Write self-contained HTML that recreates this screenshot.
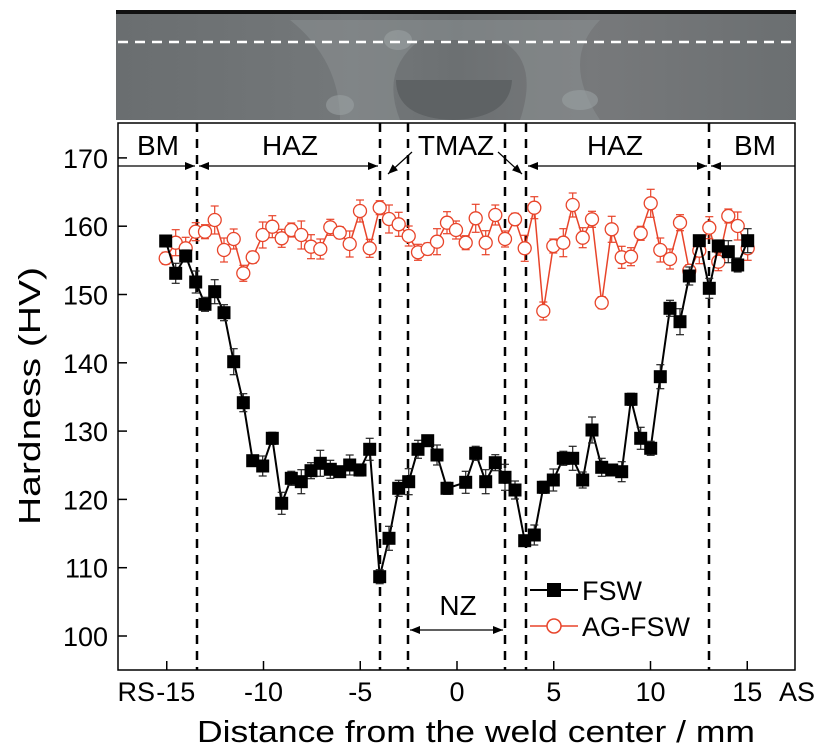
<!DOCTYPE html>
<html><head><meta charset="utf-8"><style>
body{margin:0;background:#fff;}
svg{display:block;font-family:"Liberation Sans",Arial,sans-serif;}
</style></head><body>
<svg id="s" width="827" height="751" viewBox="0 0 827 751" xmlns="http://www.w3.org/2000/svg">
<defs>
<linearGradient id="g" x1="0" x2="1" y1="0" y2="0">
<stop offset="0" stop-color="#6a6e70"/><stop offset="0.35" stop-color="#74787a"/><stop offset="0.5" stop-color="#6c7072"/><stop offset="0.7" stop-color="#77797b"/><stop offset="1" stop-color="#6b6f71"/>
</linearGradient>
<marker id="ah" markerWidth="10" markerHeight="8" refX="10" refY="4" orient="auto" markerUnits="userSpaceOnUse"><path d="M0,0 L10,4 L0,8 z" fill="#000"/></marker>
</defs>
<rect x="116" y="10" width="680" height="110" fill="url(#g)"/>
<rect x="116" y="10" width="680" height="4" fill="#111"/>
<path d="M290,20 Q340,60 340,120 L400,120 Q380,70 420,40 L500,40 Q540,60 520,120 L600,120 Q560,60 600,20 Z" fill="#8a9092" opacity="0.55"/>
<ellipse cx="398" cy="40" rx="14" ry="10" fill="#9aa0a2" opacity="0.6"/>
<ellipse cx="580" cy="100" rx="18" ry="10" fill="#9aa0a2" opacity="0.6"/>
<ellipse cx="340" cy="105" rx="14" ry="10" fill="#9aa0a2" opacity="0.6"/>
<path d="M396,80 Q396,118 453,120 Q510,118 512,80 Z" fill="#5e6264"/>
<line x1="118" y1="42" x2="796" y2="42" stroke="#fff" stroke-width="2.5" stroke-dasharray="10,7"/>
<rect x="118" y="123" width="677" height="547" fill="none" stroke="#000" stroke-width="1.5"/>
<g id="dash" stroke="#000" stroke-width="2.5" stroke-dasharray="9,7">
<line x1="197" y1="123" x2="197" y2="670"/><line x1="380" y1="123" x2="380" y2="670"/>
<line x1="408" y1="123" x2="408" y2="670"/><line x1="505" y1="123" x2="505" y2="670"/>
<line x1="526" y1="123" x2="526" y2="670"/><line x1="709" y1="123" x2="709" y2="670"/>
</g>
<g stroke="#000" stroke-width="1.2" marker-end="url(#ah)">
<line x1="118" y1="166" x2="195" y2="166"/><line x1="290" y1="166" x2="199" y2="166"/>
<line x1="290" y1="166" x2="378" y2="166"/><line x1="412" y1="152" x2="388" y2="174"/>
<line x1="498" y1="152" x2="522" y2="174"/><line x1="615" y1="166" x2="528" y2="166"/>
<line x1="615" y1="166" x2="707" y2="166"/><line x1="795" y1="166" x2="711" y2="166"/>
<line x1="458" y1="630" x2="410" y2="630"/><line x1="458" y1="630" x2="503" y2="630"/>
</g>
<g font-size="28" text-anchor="middle" fill="#000">
<text x="158" y="155">BM</text><text x="290" y="155">HAZ</text><text x="456" y="155">TMAZ</text>
<text x="615" y="155">HAZ</text><text x="755" y="155">BM</text><text x="458" y="615">NZ</text>
</g>
<g id="ax" stroke="#000" stroke-width="1.5"></g>
<g font-size="27" text-anchor="end" id="yl"></g>
<g font-size="27" text-anchor="middle" id="xl"></g>
<text x="155" y="701" font-size="27" text-anchor="end">RS</text>
<text x="779" y="701" font-size="27">AS</text>
<text x="197" y="742" font-size="31" textLength="558" lengthAdjust="spacingAndGlyphs">Distance from the weld center / mm</text>
<text transform="translate(40,396) rotate(-90)" font-size="31" text-anchor="middle" textLength="258" lengthAdjust="spacingAndGlyphs">Hardness (HV)</text>
<g id="ag"></g><g id="fs"></g>
<line x1="530" y1="590" x2="578" y2="590" stroke="#000" stroke-width="2"/>
<rect x="547" y="583" width="14" height="14" fill="#000"/>
<text x="582" y="600" font-size="27">FSW</text>
<line x1="530" y1="626" x2="578" y2="626" stroke="#e8442a" stroke-width="1.5"/>
<circle cx="554" cy="626" r="7" fill="#fff" stroke="#e8442a" stroke-width="1.5"/>
<text x="582" y="636" font-size="27">AG-FSW</text>
</svg>
<script>
const NS="http://www.w3.org/2000/svg";
function el(p,t,a){const e=document.createElementNS(NS,t);for(const k in a)e.setAttribute(k,a[k]);p.appendChild(e);return e;}
const ax=document.getElementById('ax'),yl=document.getElementById('yl'),xl=document.getElementById('xl');
for(let v=100;v<=170;v+=10){const y=636-(v-100)*6.83;el(ax,'line',{x1:118,y1:y,x2:127,y2:y});const t=el(yl,'text',{x:108,y:y+10});t.textContent=v;}
[-15,-10,-5,0,5,10,15].forEach(v=>{const x=457+v*19.35;el(ax,'line',{x1:x,y1:670,x2:x,y2:661});const t=el(xl,'text',{x:x+(v==-15?9:0),y:701});t.textContent=v;});
const fx=[165.7,175.7,185.7,195.7,205,214.7,224,233.7,243.3,252.7,262.7,272.3,281.7,291.3,301.3,311,320.3,330.3,339.7,349.7,360,369.7,379.7,389,398.7,408.7,418,427.7,437,447,465.7,475.7,485.7,495.3,505,515,524.7,534.3,543.3,553.3,563.3,572.7,582.7,592,601.7,611.7,621.7,631,640.7,650.7,660.3,670,680,689.3,699.3,709.3,718.3,728.3,737.7,747.7];
const fy=[241,273.3,256,282,304.3,291.7,312.7,361.7,402.7,460.7,466,438.3,503.3,478.3,481.7,470.7,463.3,469.3,471.7,465,470,449.3,576.7,538.3,488.3,481.7,449.3,440.7,455,488.3,482.3,453.3,481.7,462.7,477.3,490,540.7,535,487.3,480,458.3,458.3,480,430,467.3,470,471.7,399.3,438.3,448.3,376.7,308.3,321.7,276,240.7,288.3,246,251.7,265,240.7];
const ax2=[165.7,175.7,185.7,195.7,205,214.7,224,233.7,243.3,252.7,262.7,272.3,281.7,291.3,301.3,311,320.3,330.3,339.7,349.7,360,369.7,379.7,389,398.7,408.7,418,427.7,437,447,456,465.7,475.7,485.7,495.3,505,515,524.7,534.3,543.3,553.3,563.3,572.7,582.7,592,601.7,611.7,621.7,631,640.7,650.7,660.3,670,680,689.3,699.3,709.3,718.3,728.3,737.7,747.7];
const ay=[258.3,242.7,248.3,231.7,231.7,220,250,239,273.3,257.3,235,226.7,238.3,230,235,246.7,249,227.3,232.7,244,211,248.3,207.7,219,224.3,236,252.3,249,241.7,222.7,230,242.7,218.3,242.7,215,239,219.3,248.3,207.7,311,246,242.7,205,237.7,219.3,302.7,229.3,257.3,256.7,233.3,203.3,250,259,222.7,270.7,250.7,227.7,261.7,216,226,248.3];
const ag=document.getElementById('ag'),fs=document.getElementById('fs');
function eb(g,x,y,h,c){el(g,'line',{x1:x,y1:y-h,x2:x,y2:y+h,stroke:c,'stroke-width':1.2});el(g,'line',{x1:x-4,y1:y-h,x2:x+4,y2:y-h,stroke:c,'stroke-width':1.2});el(g,'line',{x1:x-4,y1:y+h,x2:x+4,y2:y+h,stroke:c,'stroke-width':1.2});}
el(ag,'polyline',{points:ax2.map((x,i)=>x+','+ay[i]).join(' '),fill:'none',stroke:'#e8442a','stroke-width':1.5});
ax2.forEach((x,i)=>{eb(ag,x,ay[i],6+((i*7)%9),'#e8442a');});
ax2.forEach((x,i)=>{el(ag,'circle',{cx:x,cy:ay[i],r:6.5,fill:'#fff',stroke:'#e8442a','stroke-width':1.3});});
el(fs,'polyline',{points:fx.map((x,i)=>x+','+fy[i]).join(' '),fill:'none',stroke:'#000','stroke-width':2});
fx.forEach((x,i)=>{eb(fs,x,fy[i],5+((i*5)%9),'#222');});
fx.forEach((x,i)=>{el(fs,'rect',{x:x-6.5,y:fy[i]-6.5,width:13,height:13,fill:'#000'});});
</script>
</body></html>
